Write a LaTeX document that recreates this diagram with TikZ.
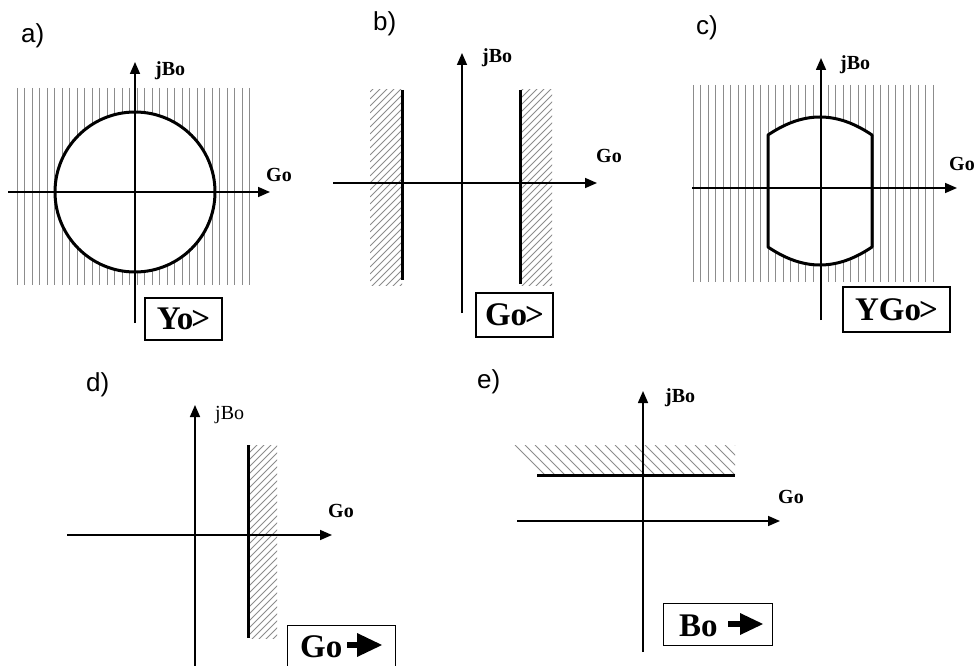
\documentclass[tikz,border=0pt]{standalone}
\usepackage{fontspec}
\setmainfont{Liberation Serif}
\newfontfamily\labelsans{Liberation Sans}
\usetikzlibrary{arrows.meta}
\tikzset{
  axis/.style={line width=1.6pt,-{Triangle[length=12pt,width=10pt]}},
  bound/.style={line width=3pt},
  hatch/.style={draw=black!45,line width=0.8pt},
  axlbl/.style={font=\bfseries\fontsize{20}{20}\selectfont,inner sep=0pt,anchor=base west},
  axlblr/.style={font=\fontsize{20}{20}\selectfont,inner sep=0pt,anchor=base west},
  panel/.style={font=\labelsans\fontsize{26}{26}\selectfont,inner sep=0pt,anchor=base west},
  condbox/.style={draw,line width=1.4pt,font=\bfseries\fontsize{33}{33}\selectfont,inner sep=0pt},
  bigtxt/.style={font=\bfseries\fontsize{33}{33}\selectfont,inner sep=0pt,anchor=base west},
}
\begin{document}
\begin{tikzpicture}[x=1pt,y=-1pt]
\useasboundingbox (0,0) rectangle (977,666);
% ================= a)
\node[panel] (la) at (21,43) {a)};
\foreach \x in {17,24.5,...,256} \draw[hatch] (\x,88) -- (\x,285);
\fill[white] (135,192) circle[radius=80];
\coordinate (aL) at (8,192); \coordinate (aR) at (270,192);
\coordinate (aB) at (135,323); \coordinate (aT) at (135,62);
\draw[axis] (aL) -- (aR);
\draw[axis] (aB) -- (aT);
\draw[bound] (135,192) circle[radius=80];
\node[axlbl] (ajb) at (155,76) {jBo};
\node[axlbl] (ago) at (266,182) {Go};
\node[condbox,minimum width=77pt,minimum height=42pt] (boxa) at (183.5,319) {Yo\kern-2pt>};
% ================= b)
\node[panel] (lb) at (373,31) {b)};
\begin{scope}
\clip (370,90) rectangle (402,285);
\foreach \k in {-40,-33,...,300} \draw[hatch] (370,90+\k) -- (410,50+\k);
\end{scope}
\begin{scope}
\clip (520,90) rectangle (552,285);
\foreach \k in {-40,-33,...,300} \draw[hatch] (520,90+\k) -- (560,50+\k);
\end{scope}
\coordinate (bL) at (333,183); \coordinate (bR) at (597,183);
\coordinate (bB) at (462,313); \coordinate (bT) at (462,53);
\draw[axis] (bL) -- (bR);
\draw[axis] (bB) -- (bT);
\draw[bound] (402,90) -- (402,280);
\draw[bound] (520,90) -- (520,284);
\node[axlbl] (bjb) at (482,63) {jBo};
\node[axlbl] (bgo) at (596,163) {Go};
\node[condbox,minimum width=77pt,minimum height=44pt] (boxb) at (514.5,315) {Go\kern-2pt>};
% ================= c)
\node[panel] (lc) at (696,35) {c)};
\foreach \x in {693,700.5,...,934} \draw[hatch] (\x,85) -- (\x,282);
\path[fill=white] (768,135) .. controls (803.3,111) and (836.7,111) .. (872,135)
  -- (872,247) .. controls (836.7,271) and (803.3,271) .. (768,247) -- cycle;
\coordinate (cL) at (692,188); \coordinate (cR) at (957,188);
\coordinate (cB) at (821,320); \coordinate (cT) at (821,58);
\draw[axis] (cL) -- (cR);
\draw[axis] (cB) -- (cT);
\draw[bound,line join=round] (768,135) .. controls (803.3,111) and (836.7,111) .. (872,135)
  -- (872,247) .. controls (836.7,271) and (803.3,271) .. (768,247) -- cycle;
\node[axlbl] (cjb) at (840,70) {jBo};
\node[axlbl] (cgo) at (949,170) {Go};
\node[condbox,minimum width=107pt,minimum height=45pt] (boxc) at (896.5,309.5) {YGo\kern-2pt>};
% ================= d)
\node[panel] (ld) at (86,391) {d)};
\begin{scope}
\clip (248,445) rectangle (277,638);
\foreach \k in {-40,-33,...,240} \draw[hatch] (248,445+\k) -- (288,405+\k);
\end{scope}
\coordinate (dL) at (67,535); \coordinate (dR) at (332,535);
\coordinate (dB) at (195,670); \coordinate (dT) at (195,405);
\draw[axis] (dL) -- (dR);
\draw[axis] (dB) -- (dT);
\draw[bound] (248,445) -- (248,638);
\node[axlblr] (djb) at (215,419) {jBo};
\node[axlbl] (dgo) at (328,517) {Go};
\node[draw,line width=1.4pt,minimum width=108pt,minimum height=48pt,anchor=north west,inner sep=0pt] (boxd) at (287,625) {};
\node[bigtxt] (dtx) at (300,657) {Go};
\fill (347,642) rectangle (358,648);
\fill (357,633) -- (382,645) -- (357,657) -- cycle;
% ================= e)
\node[panel] (le) at (477,388) {e)};
\begin{scope}
\clip (505,445) rectangle (735,475);
\foreach \x in {515,525,...,735} \draw[hatch] (\x,445) -- (\x+30,475);
\end{scope}
\coordinate (eL) at (517,521); \coordinate (eR) at (780,521);
\coordinate (eB) at (643,652); \coordinate (eT) at (643,391);
\draw[axis] (eL) -- (eR);
\draw[axis] (eB) -- (eT);
\draw[bound] (537,475) -- (735,475);
\node[axlbl] (ejb) at (665,402) {jBo};
\node[axlbl] (ego) at (778,503) {Go};
\node[draw,line width=1.4pt,minimum width=109pt,minimum height=42pt,anchor=north west,inner sep=0pt] (boxe) at (663,603) {};
\node[bigtxt] (etx) at (679,636) {Bo};
\fill (728,621) rectangle (741,627);
\fill (740,613) -- (763,624) -- (740,635) -- cycle;
\end{tikzpicture}
\end{document}
